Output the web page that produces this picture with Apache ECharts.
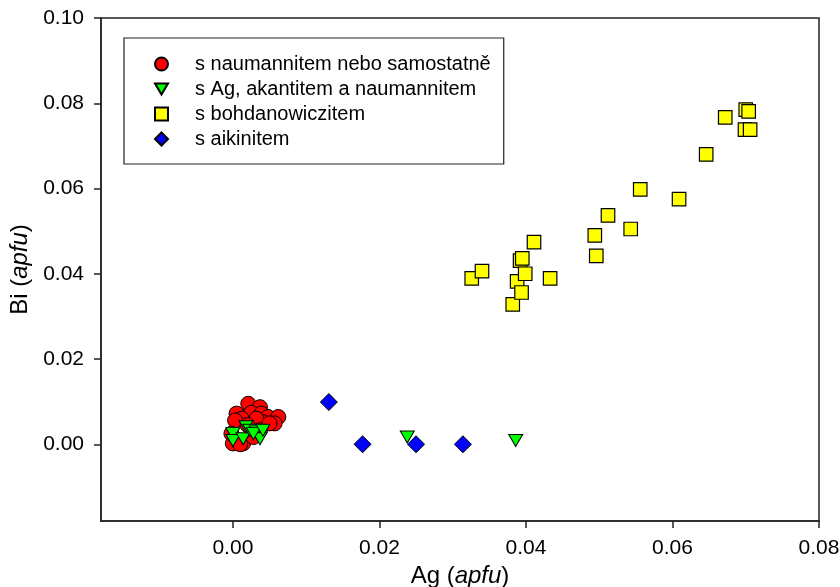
<!DOCTYPE html>
<html>
<head>
<meta charset="utf-8">
<script src="https://cdn.jsdelivr.net/npm/echarts@6/dist/echarts.min.js"></script>
<style>html,body{margin:0;padding:0;background:#fff;}#c{width:840px;height:587px;}</style>
</head>
<body>
<div id="c"></div>
<script>
// Data (Ag apfu, Bi apfu)
const seriesNames = ['s naumannitem nebo samostatně', 's Ag, akantitem a naumannitem', 's bohdanowiczitem', 's aikinitem'];
const xTicks = [0, 0.02, 0.04, 0.06, 0.08];
const yTicks = [0, 0.02, 0.04, 0.06, 0.08, 0.10];

const naumAg = [0.0021, 0.0037, 0.0005, 0.0025, 0.0039, 0.0048, 0.0062, 0.0057, 0.0041, 0.0032, 0.0012, 0.0003, 0.0037, 0.0000, 0.0014, 0.0028, -0.0002, 0.0050, 0.0010, 0.0020];
const naumBi = [0.0095, 0.0087, 0.0072, 0.0074, 0.0072, 0.0064, 0.0064, 0.0049, 0.0052, 0.0060, 0.0060, 0.0056, 0.0033, 0.0002, 0.0002, 0.0017, 0.0025, 0.0049, 0.0000, 0.0045];

const akanAg = [0.0000, 0.0000, 0.0014, 0.0018, 0.0023, 0.0032, 0.0037, 0.0028, 0.0041, 0.0238, 0.0386];
const akanBi = [0.0025, 0.0009, 0.0013, 0.0041, 0.0033, 0.0029, 0.0013, 0.0025, 0.0033, 0.0017, 0.0009];

const bohdAg = [0.0326, 0.0340, 0.0382, 0.0388, 0.0392, 0.0395, 0.0394, 0.0399, 0.0411, 0.0433, 0.0494, 0.0496, 0.0512, 0.0543, 0.0556, 0.0609, 0.0646, 0.0672, 0.0700, 0.0704, 0.0699, 0.0706];
const bohdBi = [0.0389, 0.0406, 0.0328, 0.0382, 0.0431, 0.0436, 0.0356, 0.0400, 0.0474, 0.0389, 0.0490, 0.0442, 0.0537, 0.0505, 0.0598, 0.0575, 0.0680, 0.0767, 0.0785, 0.0781, 0.0738, 0.0738];

const aikAg = [0.0131, 0.0177, 0.0250, 0.0314];
const aikBi = [0.0099, 0.0000, 0.0000, 0.0000];

function pairs(xs, ys) { return xs.map((x, i) => [x, ys[i]]); }

const FONT = '"Liberation Sans", Arial, sans-serif';
const triDown = 'path://M0,0 L10,0 L5,8.5 Z';
const italicRich = {i: {fontFamily: FONT, fontSize: 24, fontStyle: 'italic', color: '#000'}};

const chart = echarts.init(document.getElementById('c'), null, {renderer: 'canvas'});
chart.setOption({
  animation: false,
  backgroundColor: '#fff',
  textStyle: {fontFamily: FONT},
  grid: {left: 101, right: 21, top: 18, bottom: 66, show: true, borderColor: '#222', borderWidth: 1.5,
         backgroundColor: 'transparent', containLabel: false, outerBoundsMode: 'none'},
  legend: {
    orient: 'vertical', left: 124, top: 38,
    padding: [16, 13, 15, 30],
    itemGap: 5, itemWidth: 13, itemHeight: 13,
    borderColor: '#222', borderWidth: 1.2,
    textStyle: {fontFamily: FONT, fontSize: 20, color: '#000', padding: [0, 0, 0, 22]},
    data: seriesNames
  },
  xAxis: {
    type: 'value', min: -0.018, max: 0.08,
    name: 'Ag ({i|apfu})', nameLocation: 'middle', nameGap: 43,
    nameTextStyle: {fontFamily: FONT, fontSize: 24, color: '#000', rich: italicRich},
    splitLine: {show: false},
    axisLine: {onZero: false, lineStyle: {color: '#222', width: 1.5}},
    axisTick: {show: true, length: 7, lineStyle: {color: '#222', width: 1.5}, customValues: xTicks},
    axisLabel: {customValues: xTicks, margin: 17, fontFamily: FONT, fontSize: 21, color: '#000', formatter: v => v.toFixed(2)}
  },
  yAxis: {
    type: 'value', min: -0.018, max: 0.10,
    name: 'Bi ({i|apfu})', nameLocation: 'middle', nameGap: 61,
    nameTextStyle: {fontFamily: FONT, fontSize: 24, color: '#000', rich: italicRich},
    splitLine: {show: false},
    axisLine: {onZero: false, lineStyle: {color: '#222', width: 1.5}},
    axisTick: {show: true, length: 7, lineStyle: {color: '#222', width: 1.5}, customValues: yTicks},
    axisLabel: {customValues: yTicks, margin: 17, fontFamily: FONT, fontSize: 21, color: '#000', formatter: v => v.toFixed(2)}
  },
  series: [
    {name: seriesNames[0], type: 'scatter', symbol: 'circle', symbolSize: 15,
     itemStyle: {color: '#ff0000', borderColor: '#000', borderWidth: 1, opacity: 1}, data: pairs(naumAg, naumBi)},
    {name: seriesNames[1], type: 'scatter', symbol: triDown, symbolSize: [14, 12],
     itemStyle: {color: '#00ff00', borderColor: '#000', borderWidth: 1, opacity: 1}, data: pairs(akanAg, akanBi)},
    {name: seriesNames[2], type: 'scatter', symbol: 'rect', symbolSize: 13.5,
     itemStyle: {color: '#ffff00', borderColor: '#000', borderWidth: 1.2, opacity: 1}, data: pairs(bohdAg, bohdBi)},
    {name: seriesNames[3], type: 'scatter', symbol: 'diamond', symbolSize: 17,
     itemStyle: {color: '#0000ff', borderColor: '#000', borderWidth: 1, opacity: 1}, data: pairs(aikAg, aikBi)}
  ]
});
</script>
</body>
</html>
